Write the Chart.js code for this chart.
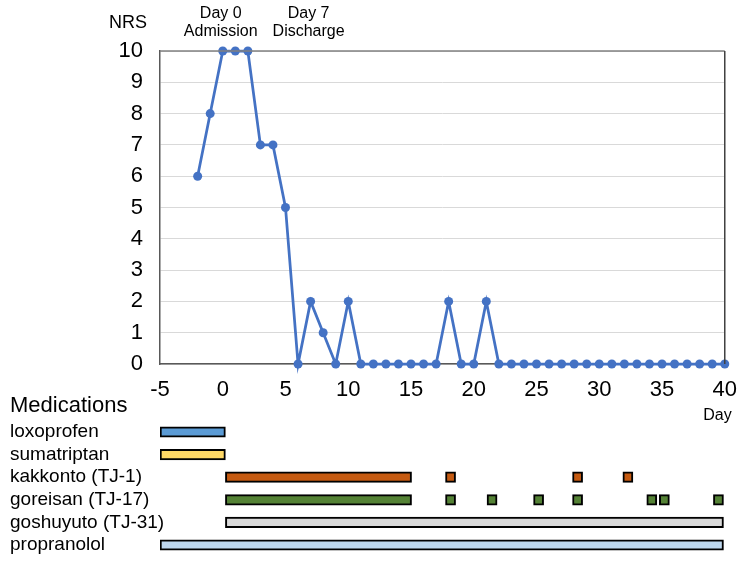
<!DOCTYPE html>
<html>
<head>
<meta charset="utf-8">
<script src="https://cdn.jsdelivr.net/npm/chart.js@4"></script>
<style>
  body { margin: 0; background: #fff; }
  #wrap { position: relative; width: 750px; height: 562px; }
  canvas { position: absolute; left: 0; }
  #nrsChart { top: 0; }
  #medChart { top: 395px; }
</style>
</head>
<body>
<div id="wrap">
  <canvas id="nrsChart" width="750" height="430"></canvas>
  <canvas id="medChart" width="750" height="167"></canvas>
</div>
<script>
// NRS score per day
const days = [-2, -1, 0, 1, 2, 3, 4, 5, 6, 7, 8, 9, 10, 11, 12, 13, 14, 15, 16, 17, 18, 19, 20,
              21, 22, 23, 24, 25, 26, 27, 28, 29, 30, 31, 32, 33, 34, 35, 36, 37, 38, 39, 40];
const nrs  = [6, 8, 10, 10, 10, 7, 7, 5, 0, 2, 1, 0, 2, 0, 0, 0, 0, 0, 0, 0, 2, 0, 0,
              2, 0, 0, 0, 0, 0, 0, 0, 0, 0, 0, 0, 0, 0, 0, 0, 0, 0, 0, 0];
const xTicks = [-5, 0, 5, 10, 15, 20, 25, 30, 35, 40];
const yTicks = [0, 1, 2, 3, 4, 5, 6, 7, 8, 9, 10];
const events = [
    { day: 0, lines: ['Day 0', 'Admission'] },
    { day: 7, lines: ['Day 7', 'Discharge'] }
];

// medication periods (day from, day to)
const medNames = ['loxoprofen', 'sumatriptan', 'kakkonto (TJ-1)', 'goreisan (TJ-17)', 'goshuyuto (TJ-31)', 'propranolol'];
const loxoprofen = [[-5, 0.2]];
const sumatriptan = [[-5, 0.2]];
const kakkonto = [[0.2, 15], [17.7, 18.5], [27.8, 28.6], [31.8, 32.6]];
const goreisan = [[0.2, 15], [17.7, 18.5], [21.0, 21.8], [24.7, 25.5], [27.8, 28.6], [33.7, 34.5], [34.7, 35.5], [39.0, 39.8]];
const goshuyuto = [[0.2, 39.8]];
const propranolol = [[-5, 39.8]];
const medColors = ['#5B9BD5', '#FFD966', '#C55A11', '#548235', '#D9D9D9', '#BDD7EE'];

const FONT = "'Liberation Sans', Arial, sans-serif";

const nrsText = {
    id: 'nrsText',
    afterDraw(chart) {
        const ctx = chart.ctx;
        const area = chart.chartArea;
        const xs = chart.scales.x;
        ctx.save();
        // frame top + right
        ctx.lineWidth = 1.5;
        ctx.strokeStyle = '#808080';
        ctx.beginPath();
        ctx.moveTo(area.left, area.top);
        ctx.lineTo(area.right, area.top);
        ctx.stroke();
        ctx.strokeStyle = '#404040';
        ctx.beginPath();
        ctx.moveTo(area.right, area.top);
        ctx.lineTo(area.right, area.bottom);
        ctx.stroke();

        ctx.fillStyle = '#000';
        ctx.textBaseline = 'middle';
        ctx.textAlign = 'center';
        ctx.font = '18px ' + FONT;
        ctx.fillText('NRS', 128, 23);
        ctx.font = '16px ' + FONT;
        events.forEach(ev => {
            const px = xs.getPixelForValue(ev.day) - 2;
            ctx.fillText(ev.lines[0], px, 14);
            ctx.fillText(ev.lines[1], px, 32);
        });
        ctx.textAlign = 'right';
        ctx.fillText('Day', area.right + 7, 416);
        ctx.restore();
    }
};

new Chart(document.getElementById('nrsChart'), {
    type: 'line',
    data: {
        datasets: [{
            data: days.map((d, i) => ({ x: d, y: nrs[i] })),
            borderColor: '#4472C4',
            backgroundColor: '#4472C4',
            borderWidth: 2.75,
            pointRadius: 4.5,
            pointBorderWidth: 0,
            pointBackgroundColor: '#4472C4',
            tension: 0,
            clip: false
        }]
    },
    options: {
        responsive: false,
        animation: false,
        layout: { padding: { left: 0, right: 24, top: 51, bottom: 0 } },
        plugins: { legend: { display: false }, tooltip: { enabled: false } },
        scales: {
            x: {
                type: 'linear',
                min: -5,
                max: 40,
                afterBuildTicks: s => { s.ticks = xTicks.map(v => ({ value: v })); },
                afterFit: s => { s.height = 66; },
                ticks: { font: { family: FONT, size: 22 }, color: '#000', padding: 13, maxRotation: 0 },
                grid: { display: false, drawTicks: false },
                border: { display: true, color: '#595959', width: 1.5 }
            },
            y: {
                min: 0,
                max: 10,
                afterBuildTicks: s => { s.ticks = yTicks.map(v => ({ value: v })); },
                afterFit: s => { s.width = 160; },
                ticks: { font: { family: FONT, size: 22 }, color: '#000', padding: 17 },
                grid: { color: '#d9d9d9', drawTicks: false },
                border: { display: true, color: '#595959', width: 1.5 }
            }
        }
    },
    plugins: [nrsText]
});

// medication chart
const medPeriods = [loxoprofen, sumatriptan, kakkonto, goreisan, goshuyuto, propranolol];
const maxSeg = Math.max(...medPeriods.map(p => p.length));
const medDatasets = [];
for (let k = 0; k < maxSeg; k++) {
    medDatasets.push({
        data: medPeriods.map(p => p[k] || null),
        backgroundColor: medColors,
        borderColor: '#000',
        borderWidth: 2,
        borderSkipped: false,
        barThickness: 10.5,
        grouped: false
    });
}

// labels drawn by hand so long names can run past the axis box
const medText = {
    id: 'medText',
    afterDraw(chart) {
        const ctx = chart.ctx;
        const ys = chart.scales.y;
        ctx.save();
        ctx.fillStyle = '#000';
        ctx.textBaseline = 'middle';
        ctx.textAlign = 'left';
        ctx.font = '22px ' + FONT;
        ctx.fillText('Medications', 10, 11);
        ctx.font = '19px ' + FONT;
        medNames.forEach((name, i) => {
            ctx.fillText(name, 10, ys.getPixelForValue(i));
        });
        ctx.restore();
    }
};

new Chart(document.getElementById('medChart'), {
    type: 'bar',
    data: { labels: medNames, datasets: medDatasets },
    options: {
        indexAxis: 'y',
        responsive: false,
        animation: false,
        layout: { padding: { left: 10, right: 24, top: 25.7, bottom: 5.7 } },
        plugins: { legend: { display: false }, tooltip: { enabled: false } },
        scales: {
            x: { type: 'linear', min: -5, max: 40, display: false },
            y: {
                afterFit: s => { s.width = 150; },
                ticks: { display: false },
                grid: { display: false, drawTicks: false },
                border: { display: false }
            }
        }
    },
    plugins: [medText]
});
</script>
</body>
</html>
